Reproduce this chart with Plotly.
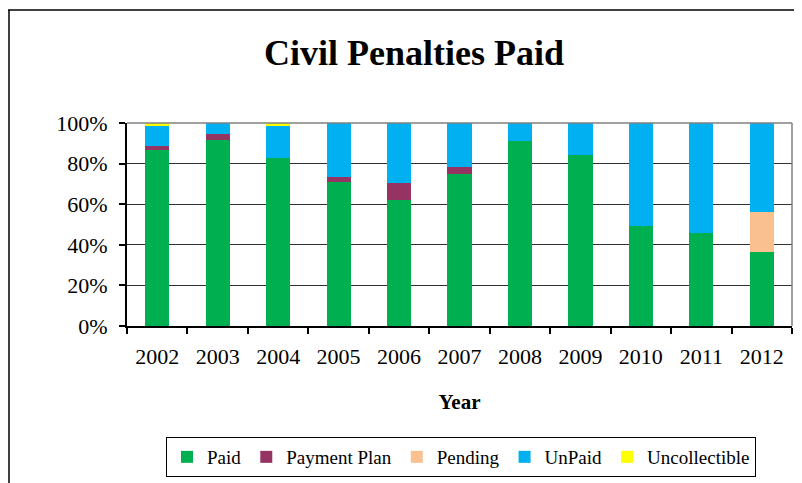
import plotly.graph_objects as go

years = ["2002", "2003", "2004", "2005", "2006", "2007", "2008", "2009", "2010", "2011", "2012"]
paid = [86.5, 91.8, 82.7, 71.0, 62.2, 74.7, 90.9, 84.2, 49.5, 45.7, 36.7]
payment_plan = [2.3, 2.9, 0, 2.2, 8.0, 3.6, 0, 0, 0, 0, 0]
pending = [0, 0, 0, 0, 0, 0, 0, 0, 0, 0, 19.5]
unpaid = [9.5, 5.3, 15.6, 26.8, 29.8, 21.7, 9.1, 15.8, 50.5, 54.3, 43.8]
uncollectible = [1.7, 0, 1.7, 0, 0, 0, 0, 0, 0, 0, 0]
y_ticks = [0, 20, 40, 60, 80, 100]
y_tick_labels = ["0%", "20%", "40%", "60%", "80%", "100%"]

series = [
    ("Paid", paid, "#00B050"),
    ("Payment Plan", payment_plan, "#953462"),
    ("Pending", pending, "#FAC090"),
    ("UnPaid", unpaid, "#00B0F0"),
    ("Uncollectible", uncollectible, "#FFFF00"),
]

FONT = "Liberation Serif"

fig = go.Figure()
for name, vals, color in series:
    fig.add_trace(go.Bar(x=years, y=vals, name=name, marker=dict(color=color, line=dict(width=0))))

# page is offset by the 8px body margin
OFF = 8
W, H = 802 - OFF, 483 - OFF
L = 127 - OFF
T = 123 - OFF
R = 802 - 792
B = H - (326 - OFF)
pw = W - L - R
ph = H - T - B

def px_x(p):
    return (p - OFF - L) / pw

def px_y(p):
    return (H - B - (p - OFF)) / ph

fig.update_layout(
    width=W, height=H,
    margin=dict(l=L, r=R, t=T, b=B, autoexpand=False),
    barmode="stack",
    bargap=0.6,
    plot_bgcolor="white",
    paper_bgcolor="white",
    font=dict(family=FONT, color="black", size=22),
    title=dict(text="<b>Civil Penalties Paid</b>", font=dict(family=FONT, size=36, color="black"),
               x=(414 - OFF) / W, xanchor="center", y=1 - (52 - OFF) / H, yanchor="middle",
               xref="container", yref="container"),
    xaxis=dict(
        automargin=False,
        showline=True, linecolor="black", linewidth=2,
        ticks="outside", tickson="boundaries", ticklen=6, tickwidth=1.5, tickcolor="black",
        tickfont=dict(family=FONT, size=22),
        ticklabelstandoff=10,
        title=dict(text="<b>Year</b>", font=dict(family=FONT, size=21), standoff=26),
        showgrid=False,
    ),
    yaxis=dict(
        automargin=False,
        range=[0, 100], tickvals=y_ticks, ticktext=y_tick_labels,
        showline=True, linecolor="black", linewidth=2,
        ticks="outside", ticklen=6, tickwidth=1.5, tickcolor="black",
        showgrid=True, gridcolor="#303030", gridwidth=1.2,
        tickfont=dict(family=FONT, size=22),
        ticklabelstandoff=7,
        zeroline=False,
    ),
    legend=dict(
        orientation="h", x=px_x(461), xanchor="center", y=px_y(437), yanchor="top",
        bordercolor="black", borderwidth=1, font=dict(family=FONT, size=19, color="black"),
        traceorder="normal", itemclick=False,
    ),
    showlegend=True,
)

shapes = [
    dict(type="line", xref="paper", yref="paper", x0=px_x(OFF), y0=px_y(10), x1=px_x(802), y1=px_y(10),
         line=dict(color="black", width=1.5)),
    dict(type="line", xref="paper", yref="paper", x0=px_x(OFF + 1), y0=px_y(10), x1=px_x(OFF + 1), y1=px_y(483),
         line=dict(color="black", width=1.5)),
    dict(type="line", xref="paper", yref="paper", x0=0, y0=1, x1=1, y1=1, line=dict(color="#808080", width=1.5)),
    dict(type="line", xref="paper", yref="paper", x0=1, y0=0, x1=1, y1=1, line=dict(color="#808080", width=1.5)),
]
fig.update_layout(shapes=shapes)

fig.write_html("out.html")
